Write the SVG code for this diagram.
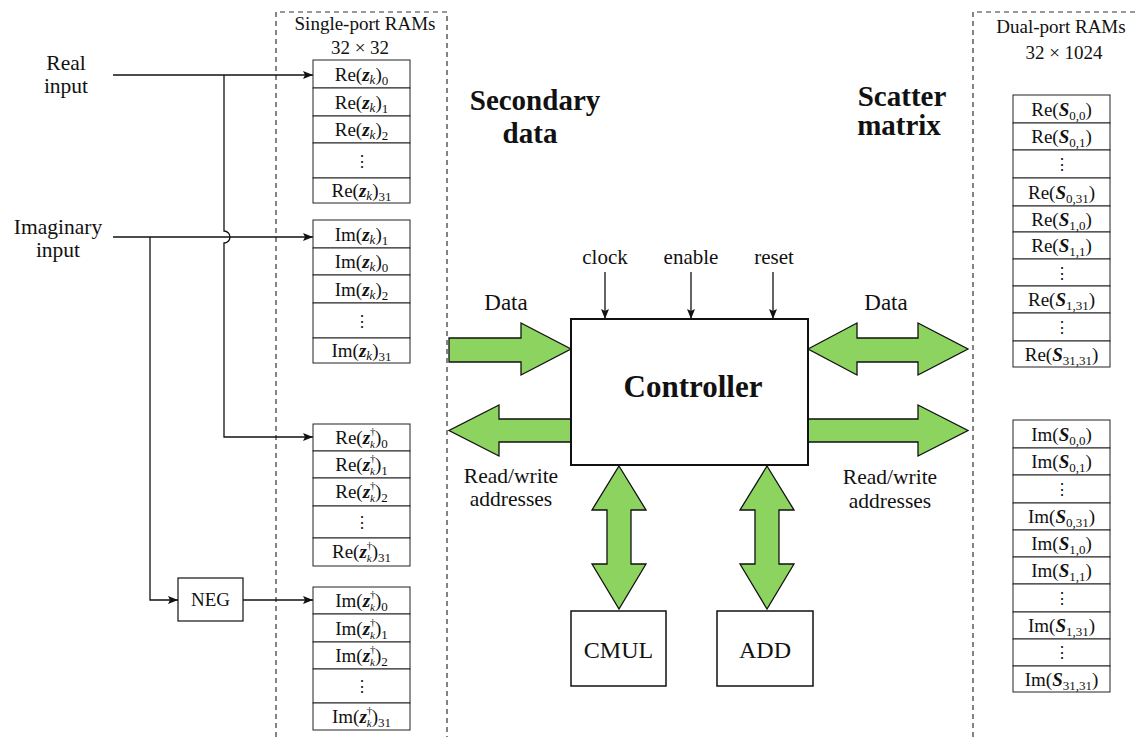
<svg xmlns="http://www.w3.org/2000/svg" width="1137" height="737" viewBox="0 0 1137 737" font-family="'Liberation Serif', 'Times New Roman', serif">
<style>
text{font-family:'Liberation Serif','Times New Roman',serif;fill:#111}
.cell{fill:#fff;stroke:#222;stroke-width:1}
.ram{font-size:19px;text-anchor:middle}
.dots{font-family:'DejaVu Serif',serif;font-size:16px;text-anchor:middle}
.b{font-weight:bold;font-style:italic}
.i{font-style:italic}
.s{font-size:13px}
.t{font-size:11px}
.dash{fill:none;stroke:#333;stroke-width:1.2;stroke-dasharray:5,4}
.wire{fill:none;stroke:#111;stroke-width:1.3}
.big{fill:#8dd35f;stroke:#111;stroke-width:1.3;stroke-linejoin:miter}
.box{fill:#fff;stroke:#111;stroke-width:1.5}
.lbl{font-size:21.5px;text-anchor:middle}
.hd{font-size:29px;font-weight:bold;text-anchor:middle}
.cap{font-size:19px;text-anchor:middle}
.sig{font-size:21px;text-anchor:middle}
</style>
<defs>
<marker id="ah" viewBox="0 0 10 8" refX="10" refY="4" markerWidth="10" markerHeight="8" markerUnits="userSpaceOnUse" orient="auto">
<path d="M0,0 L10,4 L0,8 L2,4 Z" fill="#111"/>
</marker>
</defs>
<rect width="1137" height="737" fill="#fff"/>

<g id="frames">
<path class="dash" d="M276,737 V12 H447 V737"/>
<path class="dash" d="M973,737 V12 H1137"/>
<text class="cap" x="365" y="30">Single-port RAMs</text>
<text class="cap" x="360" y="54">32 × 32</text>
<text class="cap" x="1061" y="33">Dual-port RAMs</text>
<text class="cap" x="1064" y="59">32 × 1024</text>
<text class="hd" x="535" y="110">Secondary</text>
<text class="hd" x="530" y="143">data</text>
<text class="hd" x="902" y="106">Scatter</text>
<text class="hd" x="899" y="135">matrix</text>
</g>

<g id="inputs">
<text class="lbl" x="66" y="70">Real</text>
<text class="lbl" x="66" y="93">input</text>
<text class="lbl" x="58" y="234">Imaginary</text>
<text class="lbl" x="58" y="257">input</text>
</g>

<g id="neg">
<rect class="box" x="178" y="578" width="65" height="43" style="stroke-width:1.2"/>
<text x="210.5" y="606" font-size="19" text-anchor="middle">NEG</text>
</g>

<g id="connectors">
<path class="wire" d="M113,75 H313" marker-end="url(#ah)"/>
<path class="wire" d="M113,237 H313" marker-end="url(#ah)"/>
<path class="wire" d="M224,75 V231 A6,6 0 0 1 224,243 V437 H313" marker-end="url(#ah)"/>
<path class="wire" d="M150,237 V600 H178" marker-end="url(#ah)"/>
<path class="wire" d="M243,600 H313" marker-end="url(#ah)"/>
<path class="wire" d="M605,272 V319" marker-end="url(#ah)"/>
<path class="wire" d="M691,272 V319" marker-end="url(#ah)"/>
<path class="wire" d="M773,272 V319" marker-end="url(#ah)"/>
<polygon class="big" points="449,338 521,338 521,323 571,349 521,375 521,362 449,362"/>
<polygon class="big" points="571,419 499,419 499,405 449,430.5 499,456 499,442 571,442"/>
<polygon class="big" points="808,349 857,323 857,338 918,338 918,323 968,349 918,375 918,362 857,362 857,375"/>
<polygon class="big" points="808,419 918,419 918,405 968,430.5 918,456 918,442 808,442"/>
<polygon class="big" points="619,466 646,510 631,510 631,564 646,564 619,609 592,564 607,564 607,510 592,510"/>
<polygon class="big" points="767,466 794,510 779,510 779,564 794,564 767,609 740,564 755,564 755,510 740,510"/>
<text class="lbl" x="506" y="310" style="font-size:23px">Data</text>
<text class="lbl" x="886" y="310" style="font-size:23px">Data</text>
<text class="lbl" x="511" y="483">Read/write</text>
<text class="lbl" x="511" y="506">addresses</text>
<text class="lbl" x="890" y="484">Read/write</text>
<text class="lbl" x="890" y="508">addresses</text>
<text class="sig" x="605" y="264">clock</text>
<text class="sig" x="691" y="264">enable</text>
<text class="sig" x="774" y="264">reset</text>
</g>

<g id="controller">
<rect class="box" x="571" y="319" width="237" height="146" style="stroke-width:2"/>
<text x="693" y="397" font-size="31" font-weight="bold" text-anchor="middle">Controller</text>
</g>
<g id="cmul">
<rect class="box" x="571" y="611" width="95" height="75"/>
<text class="lbl" x="618.5" y="658" style="font-size:24px">CMUL</text>
</g>
<g id="add">
<rect class="box" x="717" y="611" width="96" height="75"/>
<text class="lbl" x="765" y="658" style="font-size:24px">ADD</text>
</g>

<g id="ram-re-z">
<rect class="cell" x="313" y="60" width="97" height="28"/>
<rect class="cell" x="313" y="88" width="97" height="28"/>
<rect class="cell" x="313" y="116" width="97" height="27"/>
<rect class="cell" x="313" y="143" width="97" height="35"/>
<rect class="cell" x="313" y="178" width="97" height="25"/>
<text class="ram" x="361.5" y="81">Re(<tspan class="b">z</tspan><tspan class="s i" dy="3">k</tspan><tspan dy="-3">)</tspan><tspan class="s" dy="4">0</tspan></text>
<text class="ram" x="361.5" y="109">Re(<tspan class="b">z</tspan><tspan class="s i" dy="3">k</tspan><tspan dy="-3">)</tspan><tspan class="s" dy="4">1</tspan></text>
<text class="ram" x="361.5" y="136">Re(<tspan class="b">z</tspan><tspan class="s i" dy="3">k</tspan><tspan dy="-3">)</tspan><tspan class="s" dy="4">2</tspan></text>
<text class="dots" x="361.5" y="167">⋮</text>
<text class="ram" x="361.5" y="197">Re(<tspan class="b">z</tspan><tspan class="s i" dy="3">k</tspan><tspan dy="-3">)</tspan><tspan class="s" dy="4">31</tspan></text>
</g>

<g id="ram-im-z">
<rect class="cell" x="313" y="220" width="97" height="28"/>
<rect class="cell" x="313" y="248" width="97" height="27"/>
<rect class="cell" x="313" y="275" width="97" height="28"/>
<rect class="cell" x="313" y="303" width="97" height="35"/>
<rect class="cell" x="313" y="338" width="97" height="25"/>
<text class="ram" x="361.5" y="241">Im(<tspan class="b">z</tspan><tspan class="s i" dy="3">k</tspan><tspan dy="-3">)</tspan><tspan class="s" dy="4">1</tspan></text>
<text class="ram" x="361.5" y="268">Im(<tspan class="b">z</tspan><tspan class="s i" dy="3">k</tspan><tspan dy="-3">)</tspan><tspan class="s" dy="4">0</tspan></text>
<text class="ram" x="361.5" y="296">Im(<tspan class="b">z</tspan><tspan class="s i" dy="3">k</tspan><tspan dy="-3">)</tspan><tspan class="s" dy="4">2</tspan></text>
<text class="dots" x="361.5" y="327">⋮</text>
<text class="ram" x="361.5" y="357">Im(<tspan class="b">z</tspan><tspan class="s i" dy="3">k</tspan><tspan dy="-3">)</tspan><tspan class="s" dy="4">31</tspan></text>
</g>

<g id="ram-re-zh">
<rect class="cell" x="313" y="424" width="97" height="27"/>
<rect class="cell" x="313" y="451" width="97" height="27"/>
<rect class="cell" x="313" y="478" width="97" height="28"/>
<rect class="cell" x="313" y="506" width="97" height="32"/>
<rect class="cell" x="313" y="538" width="97" height="28"/>
<text class="ram" x="361.5" y="444">Re(<tspan class="b">z</tspan><tspan class="t" dy="-9">†</tspan><tspan class="t i" dx="-5.5" dy="13">k</tspan><tspan dy="-4">)</tspan><tspan class="s" dy="4">0</tspan></text>
<text class="ram" x="361.5" y="471">Re(<tspan class="b">z</tspan><tspan class="t" dy="-9">†</tspan><tspan class="t i" dx="-5.5" dy="13">k</tspan><tspan dy="-4">)</tspan><tspan class="s" dy="4">1</tspan></text>
<text class="ram" x="361.5" y="498">Re(<tspan class="b">z</tspan><tspan class="t" dy="-9">†</tspan><tspan class="t i" dx="-5.5" dy="13">k</tspan><tspan dy="-4">)</tspan><tspan class="s" dy="4">2</tspan></text>
<text class="dots" x="361.5" y="528">⋮</text>
<text class="ram" x="361.5" y="558">Re(<tspan class="b">z</tspan><tspan class="t" dy="-9">†</tspan><tspan class="t i" dx="-5.5" dy="13">k</tspan><tspan dy="-4">)</tspan><tspan class="s" dy="4">31</tspan></text>
</g>

<g id="ram-im-zh">
<rect class="cell" x="313" y="587" width="97" height="27"/>
<rect class="cell" x="313" y="614" width="97" height="28"/>
<rect class="cell" x="313" y="642" width="97" height="27"/>
<rect class="cell" x="313" y="669" width="97" height="34"/>
<rect class="cell" x="313" y="703" width="97" height="27"/>
<text class="ram" x="361.5" y="607">Im(<tspan class="b">z</tspan><tspan class="t" dy="-9">†</tspan><tspan class="t i" dx="-5.5" dy="13">k</tspan><tspan dy="-4">)</tspan><tspan class="s" dy="4">0</tspan></text>
<text class="ram" x="361.5" y="635">Im(<tspan class="b">z</tspan><tspan class="t" dy="-9">†</tspan><tspan class="t i" dx="-5.5" dy="13">k</tspan><tspan dy="-4">)</tspan><tspan class="s" dy="4">1</tspan></text>
<text class="ram" x="361.5" y="662">Im(<tspan class="b">z</tspan><tspan class="t" dy="-9">†</tspan><tspan class="t i" dx="-5.5" dy="13">k</tspan><tspan dy="-4">)</tspan><tspan class="s" dy="4">2</tspan></text>
<text class="dots" x="361.5" y="692">⋮</text>
<text class="ram" x="361.5" y="723">Im(<tspan class="b">z</tspan><tspan class="t" dy="-9">†</tspan><tspan class="t i" dx="-5.5" dy="13">k</tspan><tspan dy="-4">)</tspan><tspan class="s" dy="4">31</tspan></text>
</g>

<g id="ram-re-s">
<rect class="cell" x="1013" y="95" width="97" height="28"/>
<rect class="cell" x="1013" y="123" width="97" height="27"/>
<rect class="cell" x="1013" y="150" width="97" height="28"/>
<rect class="cell" x="1013" y="178" width="97" height="28"/>
<rect class="cell" x="1013" y="206" width="97" height="26"/>
<rect class="cell" x="1013" y="232" width="97" height="27"/>
<rect class="cell" x="1013" y="259" width="97" height="27"/>
<rect class="cell" x="1013" y="286" width="97" height="27"/>
<rect class="cell" x="1013" y="313" width="97" height="28"/>
<rect class="cell" x="1013" y="341" width="97" height="26"/>
<text class="ram" x="1061.5" y="116">Re(<tspan class="b">S</tspan><tspan class="s" dy="4">0,0</tspan><tspan dy="-4">)</tspan></text>
<text class="ram" x="1061.5" y="143">Re(<tspan class="b">S</tspan><tspan class="s" dy="4">0,1</tspan><tspan dy="-4">)</tspan></text>
<text class="dots" x="1061.5" y="170">⋮</text>
<text class="ram" x="1061.5" y="199">Re(<tspan class="b">S</tspan><tspan class="s" dy="4">0,31</tspan><tspan dy="-4">)</tspan></text>
<text class="ram" x="1061.5" y="226">Re(<tspan class="b">S</tspan><tspan class="s" dy="4">1,0</tspan><tspan dy="-4">)</tspan></text>
<text class="ram" x="1061.5" y="252">Re(<tspan class="b">S</tspan><tspan class="s" dy="4">1,1</tspan><tspan dy="-4">)</tspan></text>
<text class="dots" x="1061.5" y="279">⋮</text>
<text class="ram" x="1061.5" y="306">Re(<tspan class="b">S</tspan><tspan class="s" dy="4">1,31</tspan><tspan dy="-4">)</tspan></text>
<text class="dots" x="1061.5" y="333">⋮</text>
<text class="ram" x="1061.5" y="361">Re(<tspan class="b">S</tspan><tspan class="s" dy="4">31,31</tspan><tspan dy="-4">)</tspan></text>
</g>

<g id="ram-im-s">
<rect class="cell" x="1013" y="420" width="97" height="28"/>
<rect class="cell" x="1013" y="448" width="97" height="27"/>
<rect class="cell" x="1013" y="475" width="97" height="28"/>
<rect class="cell" x="1013" y="503" width="97" height="27"/>
<rect class="cell" x="1013" y="530" width="97" height="27"/>
<rect class="cell" x="1013" y="557" width="97" height="27"/>
<rect class="cell" x="1013" y="584" width="97" height="28"/>
<rect class="cell" x="1013" y="612" width="97" height="27"/>
<rect class="cell" x="1013" y="639" width="97" height="27"/>
<rect class="cell" x="1013" y="666" width="97" height="26"/>
<text class="ram" x="1061.5" y="441">Im(<tspan class="b">S</tspan><tspan class="s" dy="4">0,0</tspan><tspan dy="-4">)</tspan></text>
<text class="ram" x="1061.5" y="468">Im(<tspan class="b">S</tspan><tspan class="s" dy="4">0,1</tspan><tspan dy="-4">)</tspan></text>
<text class="dots" x="1061.5" y="495">⋮</text>
<text class="ram" x="1061.5" y="523">Im(<tspan class="b">S</tspan><tspan class="s" dy="4">0,31</tspan><tspan dy="-4">)</tspan></text>
<text class="ram" x="1061.5" y="550">Im(<tspan class="b">S</tspan><tspan class="s" dy="4">1,0</tspan><tspan dy="-4">)</tspan></text>
<text class="ram" x="1061.5" y="577">Im(<tspan class="b">S</tspan><tspan class="s" dy="4">1,1</tspan><tspan dy="-4">)</tspan></text>
<text class="dots" x="1061.5" y="604">⋮</text>
<text class="ram" x="1061.5" y="632">Im(<tspan class="b">S</tspan><tspan class="s" dy="4">1,31</tspan><tspan dy="-4">)</tspan></text>
<text class="dots" x="1061.5" y="658">⋮</text>
<text class="ram" x="1061.5" y="686">Im(<tspan class="b">S</tspan><tspan class="s" dy="4">31,31</tspan><tspan dy="-4">)</tspan></text>
</g>
</svg>
